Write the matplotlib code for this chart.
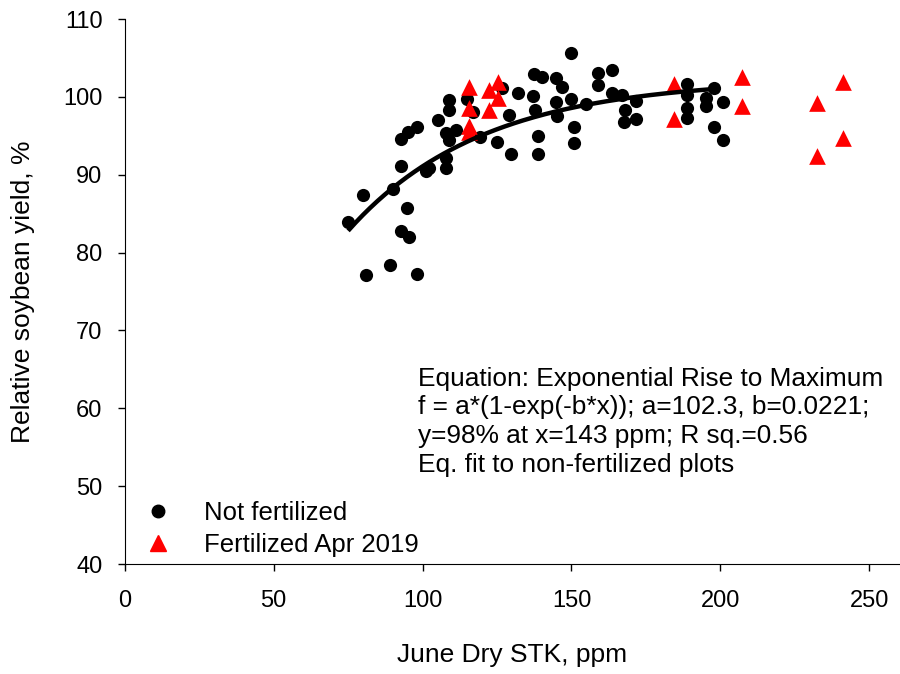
import numpy as np
import matplotlib
matplotlib.use("Agg")
import matplotlib.pyplot as plt
from matplotlib.lines import Line2D

plt.rcParams['font.family'] = ['Liberation Sans', 'DejaVu Sans']

# Not fertilized (June dry STK ppm, relative yield %)
nf_x = [75.0, 80.0, 80.9, 88.9, 90.0, 92.8, 92.8, 92.8, 94.8, 95.3, 95.0, 98.0, 98.0,
        101.2, 102.3, 105.1, 107.8, 108.0, 107.8, 109.0, 111.2, 108.8, 108.8, 115.0,
        116.8, 119.3, 125.0, 126.7, 129.6, 129.1, 131.9, 137.3, 140.2, 137.0, 137.8,
        138.9, 138.9, 144.7, 146.9, 144.7, 145.3, 149.8, 149.8, 150.9, 150.9, 154.8,
        158.8, 158.8, 163.7, 163.7, 167.1, 167.8, 167.6, 171.6, 171.6, 188.8, 188.8,
        188.8, 188.8, 195.0, 195.0, 198.0, 200.9, 197.7, 200.9]
nf_y = [83.9, 87.4, 77.1, 78.4, 88.2, 91.1, 94.6, 82.8, 85.7, 82.0, 95.5, 96.1, 77.2,
        90.5, 90.9, 97.0, 90.8, 92.2, 95.4, 94.5, 95.7, 99.6, 98.3, 99.7,
        98.0, 94.9, 94.2, 101.1, 92.7, 97.7, 100.5, 102.9, 102.6, 100.1, 98.3,
        95.0, 92.6, 102.4, 101.3, 99.3, 97.6, 105.6, 99.7, 96.1, 94.1, 99.1,
        103.1, 101.5, 103.4, 100.5, 100.3, 98.3, 96.8, 99.5, 97.1, 101.6, 100.2,
        98.6, 97.3, 99.8, 98.8, 101.2, 99.4, 96.1, 94.4]

# Fertilized Apr 2019
f_x = [115.5, 115.5, 115.5, 115.5, 122.4, 122.4, 125.2, 125.4, 184.4, 184.4,
       207.3, 207.3, 232.4, 232.4, 241.1, 241.1]
f_y = [101.3, 98.6, 96.3, 95.5, 100.9, 98.3, 101.9, 99.8, 101.7, 97.2,
       102.6, 98.8, 99.2, 92.4, 101.9, 94.7]

# Fit parameters (from annotation)
fit_a = 102.3
fit_b = 0.0221
fit_xmin, fit_xmax = 75, 198

x_ticks = [0, 50, 100, 150, 200, 250]
y_ticks = [40, 50, 60, 70, 80, 90, 100, 110]

fig = plt.figure(figsize=(9, 6.74), dpi=100)
ax = fig.add_axes([0.1386, 0.1632, 0.8604, 0.8086])

ax.scatter(nf_x, nf_y, s=9.5**2, marker='o', color='black', linewidths=0, zorder=2)
ax.scatter(f_x, f_y, s=12**2, marker='^', color='#ff0000', linewidths=0, zorder=3)

xf = np.linspace(fit_xmin, fit_xmax, 200)
ax.plot(xf, fit_a * (1 - np.exp(-fit_b * xf)), color='black', lw=3.2, zorder=4,
        solid_capstyle='butt')

ax.set_xlim(0, 260)
ax.set_ylim(40, 110)
ax.set_xticks(x_ticks)
ax.set_yticks(y_ticks)
ax.spines['top'].set_visible(False)
ax.spines['right'].set_visible(False)
ax.tick_params(axis='both', direction='out', length=5, width=1, labelsize=17)
ax.tick_params(axis='x', pad=14)
ax.tick_params(axis='y', pad=11)

ax.set_xlabel('June Dry STK, ppm', fontsize=19, labelpad=22)
ax.set_ylabel('Relative soybean yield, %', fontsize=19, labelpad=20)

ax.text(0.379, 0.362,
        'Equation: Exponential Rise to Maximum\n'
        'f = a*(1-exp(-b*x)); a=102.3, b=0.0221;\n'
        'y=98% at x=143 ppm; R sq.=0.56\n'
        'Eq. fit to non-fertilized plots',
        transform=ax.transAxes, fontsize=18.9, va='top', ha='left', linespacing=1.25)

handles = [Line2D([], [], marker='o', color='black', ls='none', markersize=9),
           Line2D([], [], marker='^', color='#ff0000', ls='none', markersize=11)]
ax.legend(handles, ['Not fertilized', 'Fertilized Apr 2019'], loc='upper left',
          bbox_to_anchor=(0.0165, 0.125), frameon=False, fontsize=18.5,
          handlelength=1.2, handletextpad=1.17, labelspacing=0.3, borderpad=0.2,
          borderaxespad=0)

fig.savefig('out.png', dpi=100)
